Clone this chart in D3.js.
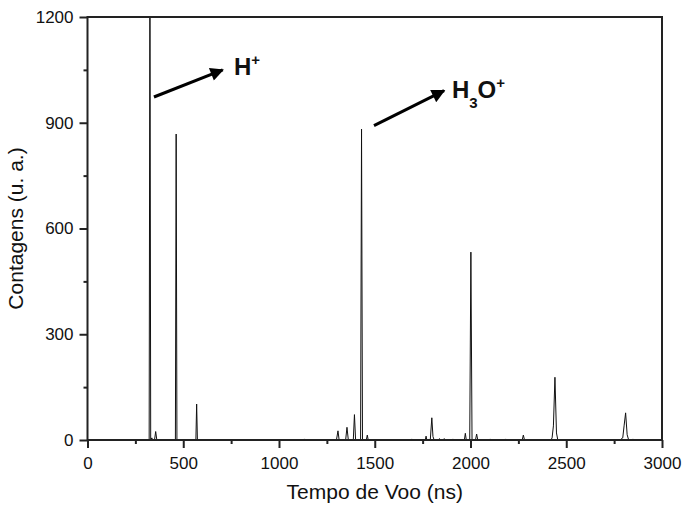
<!DOCTYPE html>
<html>
<head>
<meta charset="utf-8">
<script src="https://cdn.jsdelivr.net/npm/d3@7"></script>
<style>
  body { margin: 0; background: #fff; }
  #chart text { font-family: "Liberation Sans", Arial, sans-serif; fill: #111; }
  .frame { fill: none; stroke: #222; stroke-width: 2; }
  .trace { fill: none; stroke: #111; stroke-width: 1; }
  .axis path { display: none; }
  .axis line { stroke: #222; stroke-width: 2; }
  .axis text { font-size: 17px; }
  .label { font-size: 21px; }
  .ion { font-size: 24px; font-weight: bold; }
  .arrow { stroke: #000; stroke-width: 3; }
</style>
</head>
<body>
<div id="chart"></div>
<script>
// Time of flight (ns) and counts
let tempo = [0, 300, 322, 326, 330, 336, 340, 350, 356, 362, 459, 463, 467, 566, 570, 574,
    700, 1130, 1133, 1136, 1180, 1183, 1186, 1250, 1253, 1256, 1300, 1308, 1314, 1348, 1355, 1362,
    1388, 1394, 1400, 1426, 1431, 1436, 1456, 1461, 1466, 1690, 1693, 1696, 1740, 1764, 1768, 1772,
    1790, 1798, 1804, 1810, 1835, 1838, 1841, 1860, 1863, 1866, 1905, 1908, 1911, 1968, 1973, 1978,
    1996, 2002, 2008, 2026, 2032, 2038, 2100, 2103, 2106, 2180, 2183, 2186, 2270, 2276, 2282, 2380,
    2383, 2386, 2420, 2426, 2433, 2441, 2449, 2456, 2690, 2693, 2696, 2780, 2795, 2802, 2810, 2818,
    2826, 2844, 2848, 2852, 3000];
let contagens = [0, 0, 0, 1400, 0, 6, 0, 0, 24, 0, 0, 868, 0, 0, 102, 0,
    0, 0, 3, 0, 0, 2, 0, 0, 2, 0, 0, 26, 0, 0, 36, 0,
    0, 72, 0, 0, 882, 0, 0, 14, 0, 0, 3, 0, 0, 0, 11, 0,
    0, 63, 10, 0, 0, 4, 0, 0, 4, 0, 0, 3, 0, 0, 19, 0,
    0, 533, 0, 0, 17, 0, 0, 3, 0, 0, 3, 0, 0, 14, 0, 0,
    2, 0, 0, 6, 40, 178, 20, 0, 0, 2, 0, 0, 6, 40, 77, 15,
    0, 0, 3, 0, 0];

let xMajor = [0, 500, 1000, 1500, 2000, 2500, 3000];
let xMinor = [250, 750, 1250, 1750, 2250, 2750];
let yMajor = [0, 300, 600, 900, 1200];
let yMinor = [150, 450, 750, 1050];

// annotations in data units: arrow start/end and label anchor
let ions = [
    {parts: [["H", 0], ["+", -1]], x0: 347, y0: 973, x1: 706, y1: 1050, tx: 765, ty: 1035},
    {parts: [["H", 0], ["3", 1], ["O", 0], ["+", -1]], x0: 1496, y0: 892, x1: 1862, y1: 991, tx: 1903, ty: 970}
];

function SpectrumChart(){
    let self = this;
    self.init();
};

SpectrumChart.prototype.init = function(){
    let self = this;
    self.width = 682;
    self.height = 505;
    self.margin = {top: 17, right: 20, bottom: 65, left: 87.5};
    self.plotW = 662 - self.margin.left;
    self.plotH = 440 - self.margin.top;

    self.svg = d3.select("#chart").append("svg")
        .attr("width", self.width)
        .attr("height", self.height);

    self.g = self.svg.append("g")
        .attr("transform", "translate(" + self.margin.left + "," + self.margin.top + ")");

    self.x = d3.scaleLinear().domain([0, 3000]).range([0, self.plotW]);
    self.y = d3.scaleLinear().domain([0, 1200]).range([self.plotH, 0]);
};

SpectrumChart.prototype.update = function(){
    let self = this;

    //Clip so the H+ peak stops at the frame
    self.g.append("clipPath")
        .attr("id", "plot-clip")
        .append("rect")
        .attr("width", self.plotW)
        .attr("height", self.plotH);

    //Axes: major ticks with labels, minor ticks without
    self.g.append("g")
        .attr("class", "axis")
        .attr("transform", "translate(0," + self.plotH + ")")
        .call(d3.axisBottom(self.x).tickValues(xMajor).tickSize(8).tickPadding(9).tickFormat(d3.format("d")));

    self.g.append("g")
        .attr("class", "axis")
        .attr("transform", "translate(0," + self.plotH + ")")
        .call(d3.axisBottom(self.x).tickValues(xMinor).tickSize(4).tickFormat(""));

    self.g.append("g")
        .attr("class", "axis")
        .call(d3.axisLeft(self.y).tickValues(yMajor).tickSize(8).tickPadding(6).tickFormat(d3.format("d")));

    self.g.append("g")
        .attr("class", "axis")
        .call(d3.axisLeft(self.y).tickValues(yMinor).tickSize(4).tickFormat(""));

    //Spectrum trace
    let line = d3.line()
        .x(function(d, i) { return self.x(tempo[i]); })
        .y(function(d) { return self.y(d); });

    self.g.append("path")
        .datum(contagens)
        .attr("class", "trace")
        .attr("clip-path", "url(#plot-clip)")
        .attr("d", line);

    //Frame
    self.g.append("rect")
        .attr("class", "frame")
        .attr("width", self.plotW)
        .attr("height", self.plotH);

    //Axis titles
    self.svg.append("text")
        .attr("class", "label")
        .attr("text-anchor", "middle")
        .attr("x", self.margin.left + self.plotW / 2)
        .attr("y", 499)
        .text("Tempo de Voo (ns)");

    self.svg.append("text")
        .attr("class", "label")
        .attr("text-anchor", "middle")
        .attr("transform", "translate(23," + (self.margin.top + self.plotH / 2) + ") rotate(-90)")
        .text("Contagens (u. a.)");

    //Ion annotations with arrows
    let defs = self.svg.append("defs");
    defs.append("marker")
        .attr("id", "head")
        .attr("viewBox", "0 0 10 10")
        .attr("refX", 9)
        .attr("refY", 5)
        .attr("markerWidth", 6)
        .attr("markerHeight", 4.5)
        .attr("markerUnits", "strokeWidth")
        .attr("orient", "auto")
        .append("path")
        .attr("d", "M0,0 L10,5 L0,10 Z")
        .attr("fill", "#000");

    ions.forEach(function(ion){
        self.g.append("line")
            .attr("class", "arrow")
            .attr("x1", self.x(ion.x0))
            .attr("y1", self.y(ion.y0))
            .attr("x2", self.x(ion.x1))
            .attr("y2", self.y(ion.y1))
            .attr("marker-end", "url(#head)");

        let t = self.g.append("text")
            .attr("class", "ion")
            .attr("x", self.x(ion.tx))
            .attr("y", self.y(ion.ty));

        let prev = 0;
        ion.parts.forEach(function(p){
            let shift = p[1] * 10;
            t.append("tspan")
                .attr("dy", shift - prev)
                .attr("font-size", p[1] == 0 ? 24 : 15)
                .text(p[0]);
            prev = shift;
        });
    });
};

let chart = new SpectrumChart();
chart.update();
</script>
</body>
</html>
